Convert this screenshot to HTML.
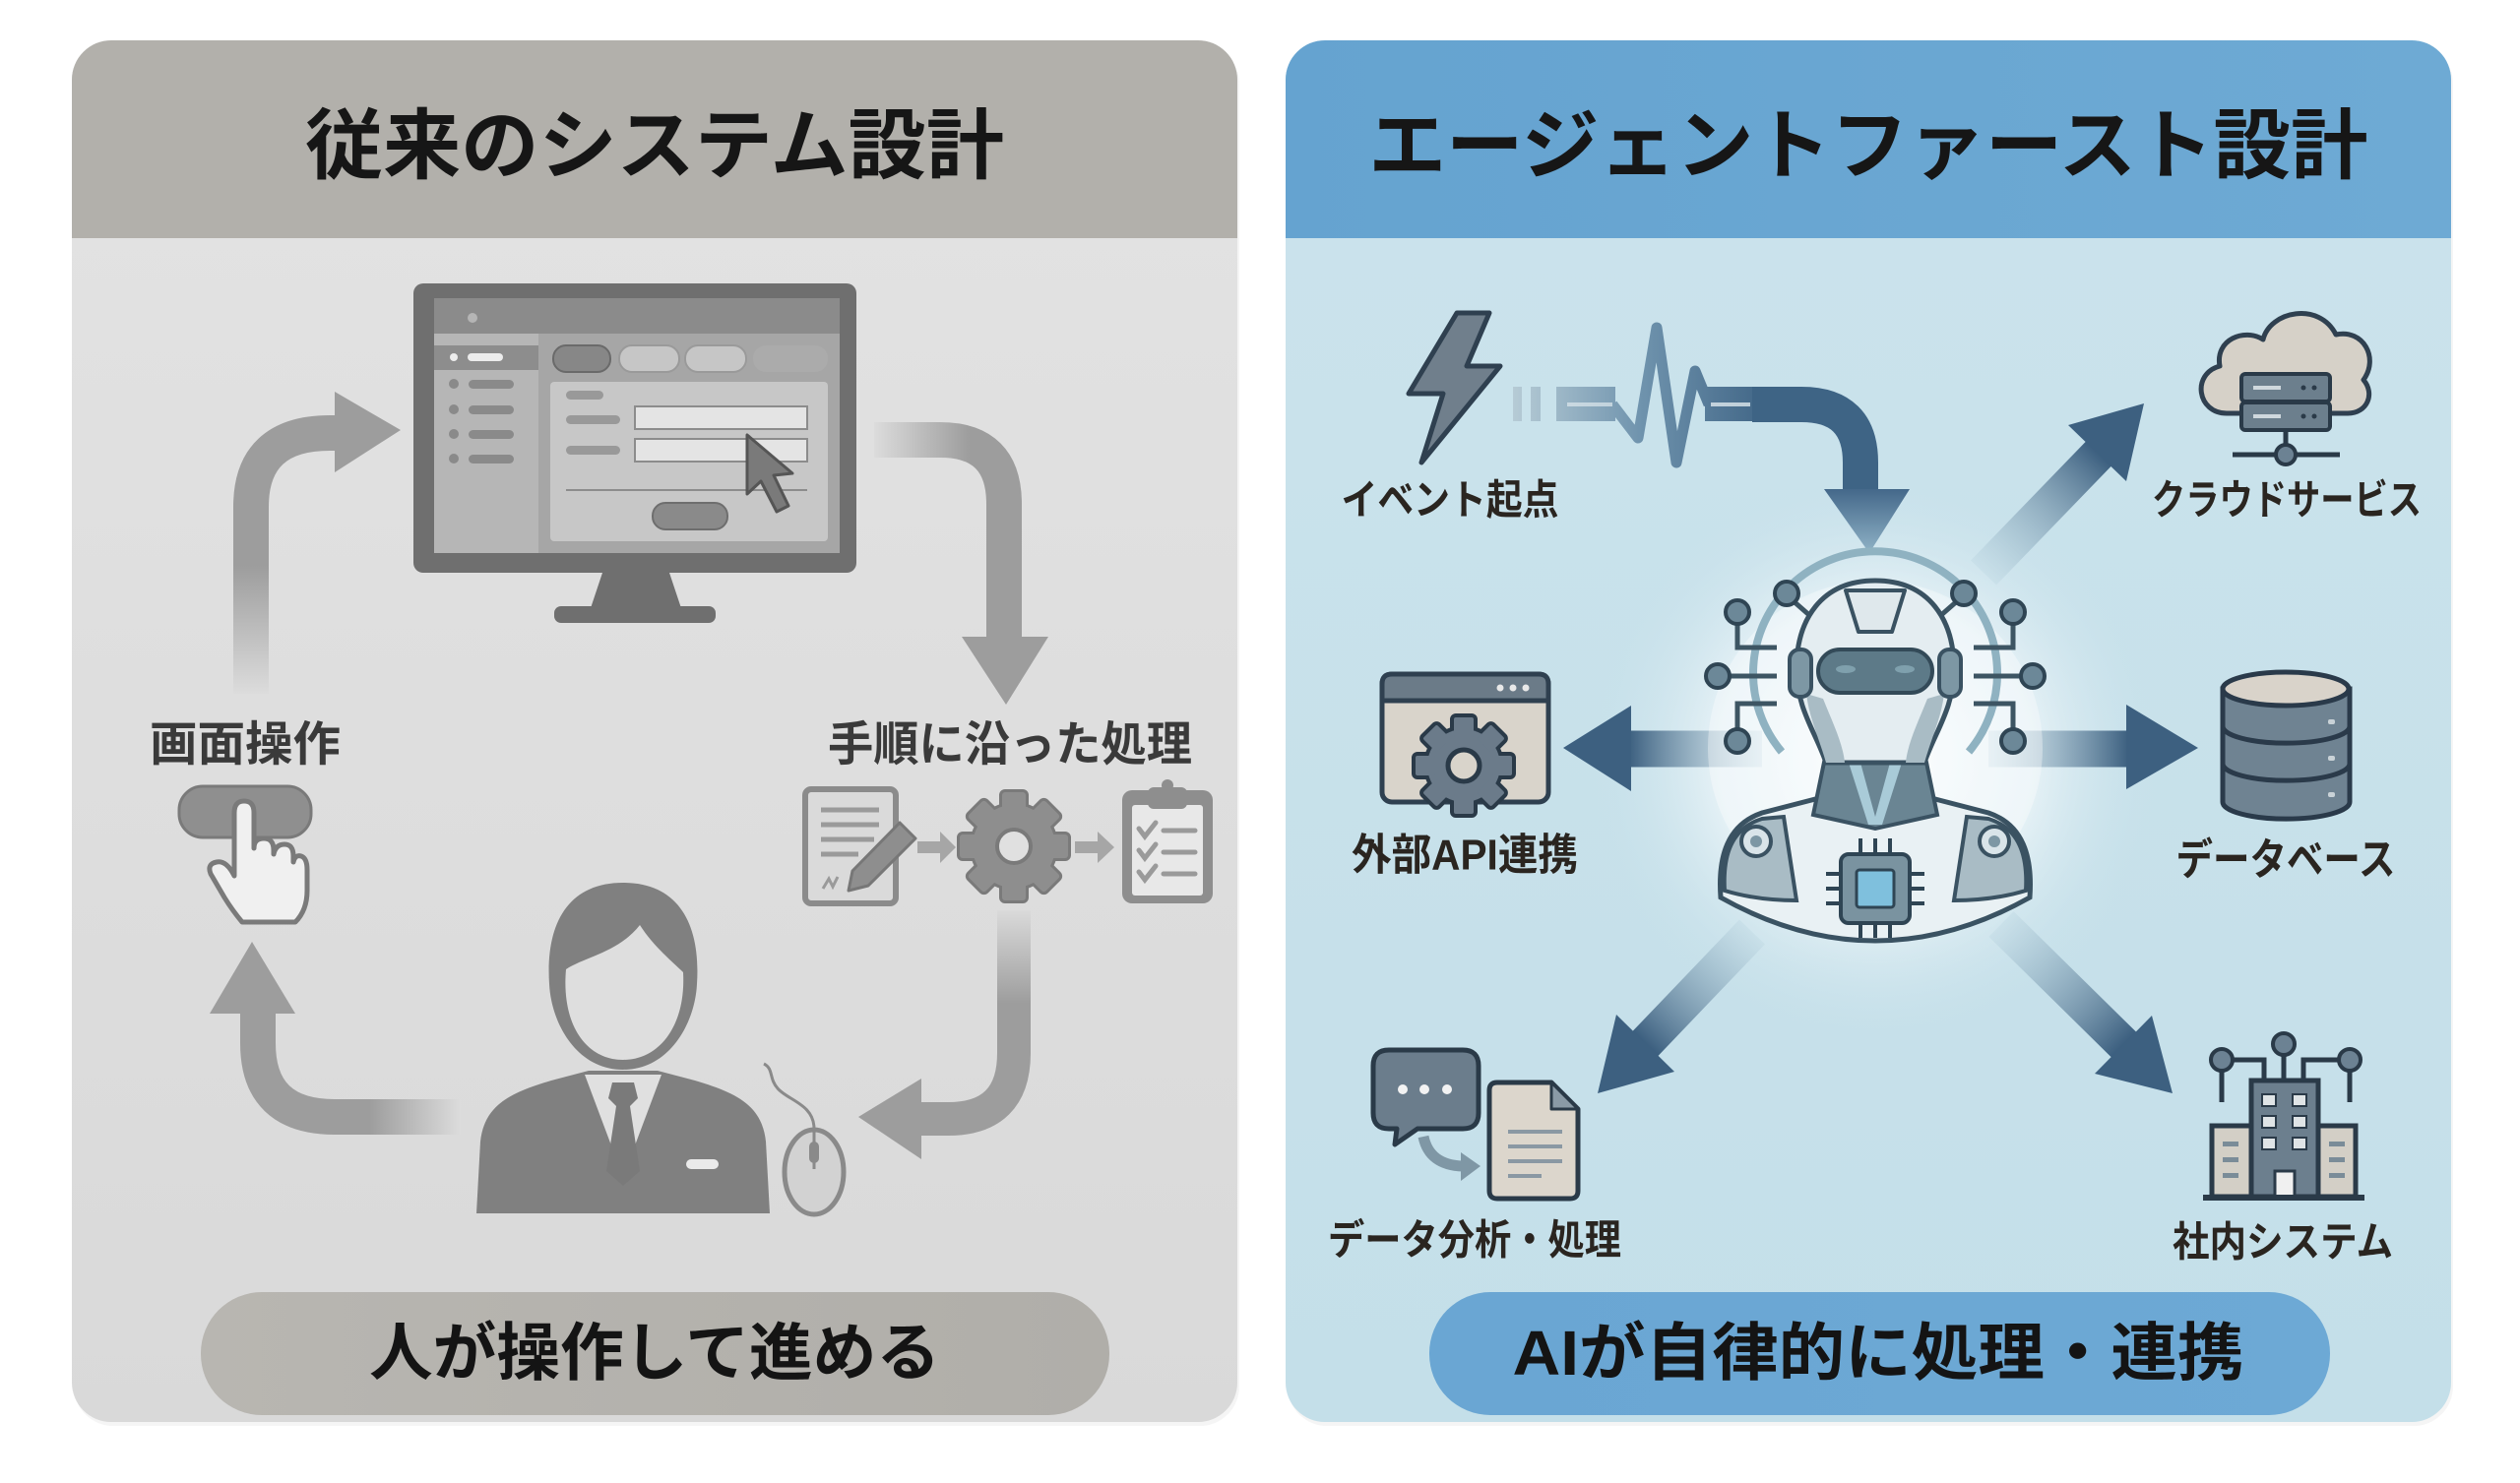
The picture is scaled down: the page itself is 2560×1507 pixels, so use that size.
<!DOCTYPE html>
<html><head><meta charset="utf-8"><style>
html,body{margin:0;padding:0;background:#ffffff;}
svg{display:block;}
text{font-family:"Liberation Sans","Noto Sans CJK JP",sans-serif;font-weight:bold;}
</style></head><body>
<svg width="2560" height="1507" viewBox="0 0 2560 1507" xmlns="http://www.w3.org/2000/svg">
<defs>
<clipPath id="cl"><rect x="73" y="41" width="1184" height="1404" rx="40"/></clipPath>
<clipPath id="cr"><rect x="1306" y="41" width="1184" height="1404" rx="40"/></clipPath>
<linearGradient id="lbody" x1="0" y1="0" x2="0" y2="1"><stop offset="0" stop-color="#e3e3e3"/><stop offset="1" stop-color="#d9d9d9"/></linearGradient>
<linearGradient id="rbody" x1="0" y1="0" x2="0" y2="1"><stop offset="0" stop-color="#cbe3ec"/><stop offset="1" stop-color="#c4dfe9"/></linearGradient>
<linearGradient id="rhead" x1="0" y1="0" x2="1" y2="0"><stop offset="0" stop-color="#65a3d0"/><stop offset="1" stop-color="#6eaad4"/></linearGradient>
<linearGradient id="lpill" x1="0" y1="0" x2="1" y2="0"><stop offset="0" stop-color="#b8b6b1"/><stop offset="1" stop-color="#b0aea9"/></linearGradient>
<linearGradient id="rpill" x1="0" y1="0" x2="1" y2="0"><stop offset="0" stop-color="#6aa6d3"/><stop offset="1" stop-color="#6da9d5"/></linearGradient>
<radialGradient id="glow" gradientUnits="userSpaceOnUse" cx="1905" cy="770" r="290">
<stop offset="0" stop-color="#ffffff" stop-opacity="0.95"/><stop offset="0.55" stop-color="#f0f7fa" stop-opacity="0.75"/><stop offset="1" stop-color="#c8e1ea" stop-opacity="0"/></radialGradient>
<linearGradient id="gA1" gradientUnits="userSpaceOnUse" x1="0" y1="705" x2="0" y2="575"><stop offset="0" stop-color="#dcdcdc"/><stop offset="1" stop-color="#9d9d9d"/></linearGradient>
<linearGradient id="gA2" gradientUnits="userSpaceOnUse" x1="888" y1="0" x2="985" y2="0"><stop offset="0" stop-color="#dcdcdc"/><stop offset="1" stop-color="#9d9d9d"/></linearGradient>
<linearGradient id="gA3" gradientUnits="userSpaceOnUse" x1="0" y1="925" x2="0" y2="1020"><stop offset="0" stop-color="#dadada"/><stop offset="1" stop-color="#9d9d9d"/></linearGradient>
<linearGradient id="gA4" gradientUnits="userSpaceOnUse" x1="468" y1="0" x2="375" y2="0"><stop offset="0" stop-color="#dcdcdc"/><stop offset="1" stop-color="#9d9d9d"/></linearGradient>
<linearGradient id="wave" gradientUnits="userSpaceOnUse" x1="1535" y1="0" x2="1800" y2="0"><stop offset="0" stop-color="#b7ccd6"/><stop offset="0.5" stop-color="#6f93ad"/><stop offset="1" stop-color="#3f6485"/></linearGradient>
<linearGradient id="ahead" gradientUnits="userSpaceOnUse" x1="0" y1="497" x2="0" y2="562"><stop offset="0" stop-color="#44688a"/><stop offset="1" stop-color="#8fb2c6"/></linearGradient>
<linearGradient id="sL" gradientUnits="userSpaceOnUse" x1="1790" y1="0" x2="1655" y2="0"><stop offset="0" stop-color="#b7d2de" stop-opacity="0.3"/><stop offset="1" stop-color="#3d6080"/></linearGradient>
<linearGradient id="sR" gradientUnits="userSpaceOnUse" x1="2020" y1="0" x2="2162" y2="0"><stop offset="0" stop-color="#b7d2de" stop-opacity="0.3"/><stop offset="1" stop-color="#3d6080"/></linearGradient>
<linearGradient id="sUR" gradientUnits="userSpaceOnUse" x1="2015" y1="582" x2="2132" y2="461"><stop offset="0" stop-color="#b7d2de" stop-opacity="0.3"/><stop offset="1" stop-color="#3d6080"/></linearGradient>
<linearGradient id="sDL" gradientUnits="userSpaceOnUse" x1="1780" y1="947" x2="1672" y2="1060"><stop offset="0" stop-color="#b7d2de" stop-opacity="0.3"/><stop offset="1" stop-color="#3d6080"/></linearGradient>
<linearGradient id="sDR" gradientUnits="userSpaceOnUse" x1="2033" y1="939" x2="2157" y2="1061"><stop offset="0" stop-color="#b7d2de" stop-opacity="0.3"/><stop offset="1" stop-color="#3d6080"/></linearGradient>
</defs>

<!-- ============ LEFT PANEL ============ -->
<rect x="75" y="45" width="1184" height="1404" rx="40" fill="#000" opacity="0.04"/>
<g clip-path="url(#cl)">
<rect x="73" y="41" width="1184" height="1404" fill="url(#lbody)"/>
<rect x="73" y="41" width="1184" height="201" fill="#b2b0ab"/>
</g>
<text x="665" y="148" font-size="78" text-anchor="middle" dominant-baseline="central" fill="#161616" textLength="710" lengthAdjust="spacingAndGlyphs">従来のシステム設計</text>

<!-- monitor -->
<rect x="420" y="288" width="450" height="294" rx="10" fill="#6f6f6f"/>
<rect x="441" y="303" width="412" height="259" fill="#a6a6a6"/>
<rect x="441" y="303" width="412" height="36" fill="#8b8b8b"/>
<circle cx="480" cy="323" r="5" fill="#b5b5b5"/>
<rect x="441" y="339" width="106" height="223" fill="#b6b6b6"/>
<rect x="441" y="351" width="106" height="25" fill="#8d8d8d"/>
<circle cx="461" cy="363" r="4" fill="#ececec"/>
<rect x="475" y="359" width="36" height="8" rx="4" fill="#ececec"/>
<g fill="#8a8a8a">
<circle cx="461" cy="390" r="5"/><rect x="476" y="386" width="46" height="9" rx="4.5"/>
<circle cx="461" cy="416" r="5"/><rect x="476" y="412" width="46" height="9" rx="4.5"/>
<circle cx="461" cy="441" r="5"/><rect x="476" y="437" width="46" height="9" rx="4.5"/>
<circle cx="461" cy="466" r="5"/><rect x="476" y="462" width="46" height="9" rx="4.5"/>
</g>
<rect x="562" y="351" width="58" height="27" rx="13" fill="#878787" stroke="#6a6a6a" stroke-width="2"/>
<rect x="629" y="351" width="61" height="27" rx="13" fill="#c6c6c6" stroke="#9a9a9a" stroke-width="2"/>
<rect x="696" y="351" width="62" height="27" rx="13" fill="#c6c6c6" stroke="#9a9a9a" stroke-width="2"/>
<rect x="765" y="351" width="76" height="27" rx="13" fill="#ababab"/>
<rect x="559" y="388" width="282" height="162" rx="4" fill="#c7c7c7"/>
<g fill="#999">
<rect x="575" y="397" width="38" height="9" rx="4.5"/>
<rect x="575" y="422" width="55" height="9" rx="4.5"/>
<rect x="575" y="453" width="55" height="9" rx="4.5"/>
</g>
<rect x="645" y="413" width="175" height="23" fill="#e4e4e4" stroke="#8c8c8c" stroke-width="2"/>
<rect x="645" y="446" width="175" height="23" fill="#e4e4e4" stroke="#8c8c8c" stroke-width="2"/>
<line x1="575" y1="498" x2="820" y2="498" stroke="#8c8c8c" stroke-width="2"/>
<rect x="663" y="511" width="76" height="27" rx="13" fill="#8a8a8a" stroke="#6e6e6e" stroke-width="2"/>
<polygon points="759,442 759,502 773,489 789,520 801,514 786,483 805,481" fill="#7a7a7a" stroke="#555" stroke-width="3" stroke-linejoin="round"/>
<polygon points="612,582 680,582 692,618 600,618" fill="#6f6f6f"/>
<rect x="563" y="616" width="164" height="17" rx="7" fill="#6f6f6f"/>

<!-- left arrows -->
<path d="M255,705 L255,515 Q255,440 335,440 L345,440" fill="none" stroke="url(#gA1)" stroke-width="36"/>
<polygon points="340,398 407,437 340,480" fill="#9d9d9d"/>
<path d="M888,447 L955,447 Q1020,447 1020,512 L1020,650" fill="none" stroke="url(#gA2)" stroke-width="36"/>
<polygon points="977,647 1065,647 1022,716" fill="#9d9d9d"/>
<path d="M1030,925 L1030,1070 Q1030,1137 963,1137 L935,1137" fill="none" stroke="url(#gA3)" stroke-width="34"/>
<polygon points="936,1096 936,1178 872,1135" fill="#9d9d9d"/>
<path d="M468,1135 L340,1135 Q262,1135 262,1060 L262,1025" fill="none" stroke="url(#gA4)" stroke-width="36"/>
<polygon points="213,1030 300,1030 256,957" fill="#9d9d9d"/>

<!-- labels left -->
<text x="249" y="757" font-size="48" text-anchor="middle" dominant-baseline="central" fill="#3a3a3a" textLength="194" lengthAdjust="spacingAndGlyphs">画面操作</text>
<text x="1026" y="757" font-size="48" text-anchor="middle" dominant-baseline="central" fill="#3a3a3a" textLength="370" lengthAdjust="spacingAndGlyphs">手順に沿った処理</text>

<!-- button + hand -->
<rect x="182" y="799" width="134" height="52" rx="24" fill="#8f8f8f" stroke="#7a7a7a" stroke-width="3"/>
<path d="M238,880 L238,826 Q238,814 248,814 Q258,814 258,826 L258,862 Q258,852 268,852 Q278,852 278,864 L278,868 Q280,858 289,858 Q298,858 298,870 L298,876 Q300,868 306,870 Q312,872 312,884 L312,905 Q312,925 300,937 L246,937 Q236,925 228,912 L214,888 Q210,878 220,876 Q230,874 238,890 Z" fill="#f0f0f0" stroke="#7a7a7a" stroke-width="5" stroke-linejoin="round"/>

<!-- document w/ pencil -->
<rect x="818" y="802" width="92" height="116" rx="6" fill="#dadada" stroke="#8b8b8b" stroke-width="6"/>
<g stroke="#9a9a9a" stroke-width="5"><line x1="834" y1="823" x2="893" y2="823"/><line x1="834" y1="838" x2="893" y2="838"/><line x1="834" y1="853" x2="888" y2="853"/><line x1="834" y1="868" x2="872" y2="868"/></g>
<path d="M836,903 l6,-10 l4,8 l5,-10" fill="none" stroke="#9a9a9a" stroke-width="3"/>
<polygon points="862,905 866,885 914,836 930,852 882,900" fill="#8e8e8e" stroke="#777" stroke-width="3" stroke-linejoin="round"/>
<!-- small arrows -->
<polygon points="932,855 955,855 955,845 971,861 955,877 955,867 932,867" fill="#a6a6a6"/>
<polygon points="1092,855 1115,855 1115,845 1132,861 1115,877 1115,867 1092,867" fill="#a6a6a6"/>
<!-- gear -->
<g transform="translate(1030,860)" fill="#8e8e8e" stroke="#7a7a7a" stroke-width="6">
<circle r="42"/>
<rect x="-12" y="-55" width="24" height="22" rx="3"/>
<rect x="-12" y="-55" width="24" height="22" rx="3" transform="rotate(45)"/>
<rect x="-12" y="-55" width="24" height="22" rx="3" transform="rotate(90)"/>
<rect x="-12" y="-55" width="24" height="22" rx="3" transform="rotate(135)"/>
<rect x="-12" y="-55" width="24" height="22" rx="3" transform="rotate(180)"/>
<rect x="-12" y="-55" width="24" height="22" rx="3" transform="rotate(225)"/>
<rect x="-12" y="-55" width="24" height="22" rx="3" transform="rotate(270)"/>
<rect x="-12" y="-55" width="24" height="22" rx="3" transform="rotate(315)"/>
</g>
<g transform="translate(1030,860)" fill="#8e8e8e">
<circle r="42"/>
<rect x="-12" y="-55" width="24" height="22" rx="3"/>
<rect x="-12" y="-55" width="24" height="22" rx="3" transform="rotate(45)"/>
<rect x="-12" y="-55" width="24" height="22" rx="3" transform="rotate(90)"/>
<rect x="-12" y="-55" width="24" height="22" rx="3" transform="rotate(135)"/>
<rect x="-12" y="-55" width="24" height="22" rx="3" transform="rotate(180)"/>
<rect x="-12" y="-55" width="24" height="22" rx="3" transform="rotate(225)"/>
<rect x="-12" y="-55" width="24" height="22" rx="3" transform="rotate(270)"/>
<rect x="-12" y="-55" width="24" height="22" rx="3" transform="rotate(315)"/>
<circle r="17" fill="#e0e0e0" stroke="#7a7a7a" stroke-width="4"/>
</g>
<!-- clipboard -->
<rect x="1140" y="803" width="92" height="115" rx="10" fill="#8e8e8e"/>
<rect x="1150" y="818" width="72" height="92" rx="3" fill="#e8e8e8"/>
<rect x="1166" y="800" width="40" height="22" rx="6" fill="#8e8e8e"/>
<circle cx="1186" cy="798" r="6" fill="#8e8e8e"/>
<g fill="none" stroke="#9a9a9a" stroke-width="5" stroke-linecap="round">
<polyline points="1157,842 1163,850 1174,836"/><line x1="1182" y1="844" x2="1214" y2="844"/>
<polyline points="1157,864 1163,872 1174,858"/><line x1="1182" y1="866" x2="1214" y2="866"/>
<polyline points="1157,886 1163,894 1174,880"/><line x1="1182" y1="888" x2="1214" y2="888"/>
</g>

<!-- person -->
<path d="M633,897 C690,897 712,940 708,1000 C706,1040 680,1087 633,1087 C586,1087 560,1040 558,1000 C554,940 576,897 633,897 Z" fill="#808080"/>
<path d="M575,985 C595,972 628,968 650,940 C664,962 684,978 694,988 C697,1042 670,1077 633,1077 C596,1077 570,1042 575,985 Z" fill="#dedede"/>
<path d="M484,1233 L488,1160 C492,1122 520,1110 560,1098 L598,1088 L668,1088 L706,1098 C746,1110 774,1122 778,1160 L782,1233 Z" fill="#808080"/>
<polygon points="594,1092 672,1092 633,1196" fill="#e0e0e0"/>
<polygon points="622,1100 644,1100 648,1116 640,1124 650,1190 633,1205 616,1190 626,1124 618,1116" fill="#7a7a7a"/>
<rect x="697" y="1178" width="33" height="10" rx="5" fill="#eaeaea"/>
<!-- mouse -->
<path d="M827,1147 C827,1122 800,1118 790,1106 C781,1096 786,1086 776,1081" fill="none" stroke="#8a8a8a" stroke-width="3"/>
<ellipse cx="827" cy="1191" rx="30" ry="43" fill="#d2d2d2" stroke="#8a8a8a" stroke-width="5"/>
<line x1="827" y1="1150" x2="827" y2="1188" stroke="#8a8a8a" stroke-width="3"/>
<rect x="822" y="1160" width="10" height="22" rx="5" fill="#8a8a8a"/>

<!-- bottom pill left -->
<rect x="204" y="1313" width="923" height="125" rx="62" fill="url(#lpill)"/>
<text x="665" y="1375" font-size="64" text-anchor="middle" dominant-baseline="central" fill="#141414" textLength="580" lengthAdjust="spacingAndGlyphs">人が操作して進める</text>

<!-- ============ RIGHT PANEL ============ -->
<rect x="1308" y="45" width="1184" height="1404" rx="40" fill="#000" opacity="0.04"/>
<g clip-path="url(#cr)">
<rect x="1306" y="41" width="1184" height="1404" fill="url(#rbody)"/>
<rect x="1306" y="41" width="1184" height="201" fill="url(#rhead)"/>
<circle cx="1905" cy="770" r="290" fill="url(#glow)"/>
</g>
<text x="1898" y="148" font-size="78" text-anchor="middle" dominant-baseline="central" fill="#161616" textLength="1015" lengthAdjust="spacingAndGlyphs">エージェントファースト設計</text>

<!-- lightning -->
<polygon points="1480,318 1513,318 1490,372 1524,372 1444,470 1466,400 1431,400" fill="#707f8c" stroke="#2f4050" stroke-width="5" stroke-linejoin="round"/>
<!-- wave -->
<g fill="url(#wave)">
<rect x="1537" y="393" width="9" height="35"/>
<rect x="1555" y="393" width="10" height="35"/>
<rect x="1581" y="393" width="60" height="35"/>
<rect x="1732" y="393" width="50" height="35"/>
</g>
<polyline points="1638,411 1664,445 1683,333 1703,470 1722,377 1736,411" fill="none" stroke="url(#wave)" stroke-width="11" stroke-linejoin="round"/>
<line x1="1592" y1="411" x2="1638" y2="411" stroke="#dfe9ee" stroke-width="4" opacity="0.7"/>
<line x1="1738" y1="411" x2="1778" y2="411" stroke="#dfe9ee" stroke-width="4" opacity="0.8"/>
<path d="M1780,411 L1830,411 Q1890,411 1890,470 L1890,500" fill="none" stroke="#3e6485" stroke-width="36"/>
<polygon points="1853,497 1940,497 1899,562" fill="url(#ahead)"/>
<text x="1473" y="508" font-size="42" text-anchor="middle" dominant-baseline="central" fill="#2a2520" textLength="221" lengthAdjust="spacingAndGlyphs">イベント起点</text>

<!-- cloud -->
<path d="M2262,420 C2232,420 2226,380 2255,372 C2250,345 2280,333 2299,345 C2306,316 2356,306 2373,340 C2401,334 2417,364 2401,386 C2413,400 2405,420 2385,420 Z" fill="#d6d1c8" stroke="#2f4050" stroke-width="5" stroke-linejoin="round"/>
<rect x="2277" y="380" width="90" height="28" rx="4" fill="#6c7f8d" stroke="#2a3a48" stroke-width="4"/>
<rect x="2277" y="409" width="90" height="28" rx="4" fill="#6c7f8d" stroke="#2a3a48" stroke-width="4"/>
<g stroke="#cfd8dd" stroke-width="4"><line x1="2289" y1="394" x2="2317" y2="394"/><line x1="2289" y1="423" x2="2317" y2="423"/></g>
<g fill="#2a3a48"><circle cx="2340" cy="394" r="2.5"/><circle cx="2351" cy="394" r="2.5"/><circle cx="2340" cy="423" r="2.5"/><circle cx="2351" cy="423" r="2.5"/></g>
<line x1="2322" y1="437" x2="2322" y2="455" stroke="#2a3a48" stroke-width="5"/>
<line x1="2268" y1="462" x2="2377" y2="462" stroke="#2a3a48" stroke-width="5"/>
<circle cx="2322" cy="462" r="10" fill="#6c8293" stroke="#2a3a48" stroke-width="4"/>
<text x="2323" y="508" font-size="42" text-anchor="middle" dominant-baseline="central" fill="#2a2520" textLength="274" lengthAdjust="spacingAndGlyphs">クラウドサービス</text>

<!-- robot arrows -->
<line x1="1790" y1="761" x2="1655" y2="761" stroke="url(#sL)" stroke-width="37"/>
<polygon points="1657,717 1657,804 1588,760" fill="#3d6080"/>
<line x1="2020" y1="761" x2="2162" y2="761" stroke="url(#sR)" stroke-width="37"/>
<polygon points="2160,716 2160,802 2233,760" fill="#3d6080"/>
<line x1="2015" y1="582" x2="2132" y2="461" stroke="url(#sUR)" stroke-width="36"/>
<polygon points="2160,489 2101,432 2178,410" fill="#3d6080"/>
<line x1="1780" y1="947" x2="1670" y2="1062" stroke="url(#sDL)" stroke-width="36"/>
<polygon points="1701,1089 1642,1031 1623,1111" fill="#3d6080"/>
<line x1="2033" y1="939" x2="2159" y2="1063" stroke="url(#sDR)" stroke-width="36"/>
<polygon points="2128,1091 2186,1032 2207,1111" fill="#3d6080"/>

<!-- robot -->
<circle cx="1905" cy="760" r="170" fill="#ffffff" opacity="0.35"/>
<path d="M1810,764 A124,124 0 1 1 2000,764" fill="none" stroke="#8fb2c1" stroke-width="8"/>
<g fill="none" stroke="#3d5563" stroke-width="5">
<polyline points="1765,634 1765,658 1805,658"/>
<line x1="1757" y1="687" x2="1805" y2="687"/>
<polyline points="1765,741 1765,715 1805,715"/>
<line x1="1822" y1="611" x2="1838" y2="625"/>
<polyline points="2045,634 2045,658 2005,658"/>
<line x1="2053" y1="687" x2="2005" y2="687"/>
<polyline points="2045,741 2045,715 2005,715"/>
<line x1="1988" y1="611" x2="1972" y2="625"/>
</g>
<g fill="#6c8898" stroke="#2f4554" stroke-width="4">
<circle cx="1815" cy="603" r="12"/><circle cx="1765" cy="622" r="12"/><circle cx="1745" cy="687" r="12"/><circle cx="1765" cy="753" r="12"/>
<circle cx="1995" cy="603" r="12"/><circle cx="2045" cy="622" r="12"/><circle cx="2065" cy="687" r="12"/><circle cx="2045" cy="753" r="12"/>
</g>
<!-- body -->
<path d="M1748,912 C1745,870 1755,838 1790,826 L1852,810 L1958,810 L2020,826 C2055,838 2065,870 2062,912 Q1905,1000 1748,912 Z" fill="#e9f1f4" stroke="#3a5262" stroke-width="5"/>
<path d="M1752,905 C1750,870 1758,842 1790,832 L1812,830 L1825,915 Q1785,915 1752,905 Z" fill="#a9bcc5" stroke="#3a5262" stroke-width="4"/>
<path d="M2058,905 C2060,870 2052,842 2020,832 L1998,830 L1985,915 Q2025,915 2058,905 Z" fill="#a9bcc5" stroke="#3a5262" stroke-width="4"/>
<circle cx="1784" cy="855" r="15" fill="#d9e4e9" stroke="#3a5262" stroke-width="4"/>
<circle cx="1784" cy="855" r="6" fill="#7d97a4"/>
<circle cx="2026" cy="855" r="15" fill="#d9e4e9" stroke="#3a5262" stroke-width="4"/>
<circle cx="2026" cy="855" r="6" fill="#7d97a4"/>
<!-- neck -->
<polygon points="1855,765 1955,765 1968,828 1905,842 1842,828" fill="#6a8593" stroke="#3a5262" stroke-width="4"/>
<polygon points="1878,775 1890,775 1905,830 1920,775 1932,775 1912,838 1898,838" fill="#a9cbd8"/>
<!-- head -->
<path d="M1905,590 C1960,590 1985,630 1985,680 C1985,720 1965,745 1955,775 L1855,775 C1845,745 1825,720 1825,680 C1825,630 1850,590 1905,590 Z" fill="#e4edf1" stroke="#3a5262" stroke-width="5"/>
<path d="M1852,710 C1862,735 1872,755 1874,775 L1855,775 C1848,750 1838,730 1835,705 Z" fill="#a9bcc5"/>
<path d="M1958,710 C1948,735 1938,755 1936,775 L1955,775 C1962,750 1972,730 1975,705 Z" fill="#a9bcc5"/>
<rect x="1818" y="660" width="22" height="48" rx="10" fill="#7d97a4" stroke="#3a5262" stroke-width="4"/>
<rect x="1970" y="660" width="22" height="48" rx="10" fill="#7d97a4" stroke="#3a5262" stroke-width="4"/>
<polygon points="1875,600 1935,600 1922,642 1888,642" fill="#dfe8ec" stroke="#3a5262" stroke-width="4" stroke-linejoin="round"/>
<rect x="1847" y="660" width="116" height="44" rx="22" fill="#5d7a88" stroke="#334a58" stroke-width="4"/>
<ellipse cx="1875" cy="680" rx="10" ry="4" fill="#8fb0bd" opacity="0.7"/>
<ellipse cx="1935" cy="680" rx="10" ry="4" fill="#8fb0bd" opacity="0.7"/>
<!-- chip -->
<g stroke="#2f4554" stroke-width="4">
<line x1="1890" y1="852" x2="1890" y2="868"/><line x1="1905" y1="852" x2="1905" y2="868"/><line x1="1920" y1="852" x2="1920" y2="868"/>
<line x1="1890" y1="938" x2="1890" y2="953"/><line x1="1905" y1="938" x2="1905" y2="953"/><line x1="1920" y1="938" x2="1920" y2="953"/>
<line x1="1855" y1="888" x2="1870" y2="888"/><line x1="1855" y1="903" x2="1870" y2="903"/><line x1="1855" y1="918" x2="1870" y2="918"/>
<line x1="1940" y1="888" x2="1955" y2="888"/><line x1="1940" y1="903" x2="1940" y2="903"/><line x1="1940" y1="903" x2="1955" y2="903"/><line x1="1940" y1="918" x2="1955" y2="918"/>
</g>
<rect x="1870" y="868" width="70" height="70" rx="8" fill="#7a93a0" stroke="#2f4554" stroke-width="4"/>
<rect x="1886" y="884" width="38" height="38" rx="3" fill="#7fc0dd" stroke="#2f4554" stroke-width="3"/>

<!-- API icon -->
<rect x="1404" y="685" width="169" height="130" rx="10" fill="#d9d4cb" stroke="#2f4050" stroke-width="5"/>
<path d="M1404,712 L1404,695 Q1404,685 1414,685 L1563,685 Q1573,685 1573,695 L1573,712 Z" fill="#6b7b88" stroke="#2f4050" stroke-width="5"/>
<g fill="#e8e8e8"><circle cx="1524" cy="699" r="3.5"/><circle cx="1537" cy="699" r="3.5"/><circle cx="1550" cy="699" r="3.5"/></g>
<g transform="translate(1487,778)" fill="#2a3a48" stroke="#2a3a48" stroke-width="8">
<circle r="37"/>
<rect x="-10" y="-49" width="20" height="20" rx="2"/>
<rect x="-10" y="-49" width="20" height="20" rx="2" transform="rotate(45)"/>
<rect x="-10" y="-49" width="20" height="20" rx="2" transform="rotate(90)"/>
<rect x="-10" y="-49" width="20" height="20" rx="2" transform="rotate(135)"/>
<rect x="-10" y="-49" width="20" height="20" rx="2" transform="rotate(180)"/>
<rect x="-10" y="-49" width="20" height="20" rx="2" transform="rotate(225)"/>
<rect x="-10" y="-49" width="20" height="20" rx="2" transform="rotate(270)"/>
<rect x="-10" y="-49" width="20" height="20" rx="2" transform="rotate(315)"/>
</g>
<g transform="translate(1487,778)" fill="#6b7b8a">
<circle r="37"/>
<rect x="-10" y="-49" width="20" height="20" rx="2"/>
<rect x="-10" y="-49" width="20" height="20" rx="2" transform="rotate(45)"/>
<rect x="-10" y="-49" width="20" height="20" rx="2" transform="rotate(90)"/>
<rect x="-10" y="-49" width="20" height="20" rx="2" transform="rotate(135)"/>
<rect x="-10" y="-49" width="20" height="20" rx="2" transform="rotate(180)"/>
<rect x="-10" y="-49" width="20" height="20" rx="2" transform="rotate(225)"/>
<rect x="-10" y="-49" width="20" height="20" rx="2" transform="rotate(270)"/>
<rect x="-10" y="-49" width="20" height="20" rx="2" transform="rotate(315)"/>
<circle r="16" fill="#d9d4cb" stroke="#2a3a48" stroke-width="5"/>
</g>
<text x="1488" y="869" font-size="44" text-anchor="middle" dominant-baseline="central" fill="#2a2520" textLength="230" lengthAdjust="spacingAndGlyphs">外部API連携</text>

<!-- database -->
<path d="M2258,700 L2258,815 A64,17 0 0 0 2387,815 L2387,700 Z" fill="#6f8392" stroke="#2a3a4a" stroke-width="5"/>
<path d="M2258,738 A64,17 0 0 0 2387,738" fill="none" stroke="#2a3a4a" stroke-width="5"/>
<path d="M2258,776 A64,17 0 0 0 2387,776" fill="none" stroke="#2a3a4a" stroke-width="5"/>
<ellipse cx="2322" cy="700" rx="64" ry="17" fill="#d9d3ca" stroke="#2a3a4a" stroke-width="5"/>
<g fill="#c9d2d7"><rect x="2365" y="731" width="7" height="5" rx="2"/><rect x="2365" y="768" width="7" height="5" rx="2"/><rect x="2365" y="805" width="7" height="5" rx="2"/></g>
<text x="2322" y="874" font-size="44" text-anchor="middle" dominant-baseline="central" fill="#2a2520" textLength="223" lengthAdjust="spacingAndGlyphs">データベース</text>

<!-- data analysis -->
<path d="M1411,1067 L1486,1067 Q1502,1067 1502,1083 L1502,1131 Q1502,1147 1486,1147 L1440,1147 L1417,1163 L1419,1147 L1411,1147 Q1395,1147 1395,1131 L1395,1083 Q1395,1067 1411,1067 Z" fill="#6b7d8c" stroke="#2a3a48" stroke-width="5" stroke-linejoin="round"/>
<g fill="#f2f2f2"><circle cx="1425" cy="1107" r="5"/><circle cx="1447" cy="1107" r="5"/><circle cx="1470" cy="1107" r="5"/></g>
<path d="M1446,1155 Q1452,1184 1486,1185" fill="none" stroke="#7f97a5" stroke-width="11"/>
<polygon points="1484,1171 1504,1185 1484,1200" fill="#7f97a5"/>
<path d="M1521,1100 L1576,1100 L1603,1127 L1603,1210 Q1603,1218 1595,1218 L1521,1218 Q1513,1218 1513,1210 L1513,1108 Q1513,1100 1521,1100 Z" fill="#dcd6cc" stroke="#2a3a48" stroke-width="5" stroke-linejoin="round"/>
<polygon points="1576,1100 1576,1127 1603,1127" fill="#8a9aa6" stroke="#2a3a48" stroke-width="3" stroke-linejoin="round"/>
<g stroke="#8a98a3" stroke-width="4"><line x1="1532" y1="1150" x2="1587" y2="1150"/><line x1="1532" y1="1165" x2="1587" y2="1165"/><line x1="1532" y1="1180" x2="1587" y2="1180"/><line x1="1532" y1="1195" x2="1566" y2="1195"/></g>
<text x="1498" y="1260" font-size="42" text-anchor="middle" dominant-baseline="central" fill="#2a2520" textLength="298" lengthAdjust="spacingAndGlyphs">データ分析・処理</text>

<!-- building -->
<g fill="none" stroke="#2a3a48" stroke-width="5">
<line x1="2320" y1="1072" x2="2320" y2="1098"/>
<polyline points="2268,1077 2300,1077 2300,1098"/>
<polyline points="2257,1089 2257,1120"/>
<polyline points="2376,1077 2340,1077 2340,1098"/>
<polyline points="2387,1089 2387,1120"/>
</g>
<g fill="#6c8293" stroke="#2a3a48" stroke-width="4">
<circle cx="2320" cy="1061" r="11"/><circle cx="2257" cy="1077" r="11"/><circle cx="2387" cy="1077" r="11"/>
</g>
<rect x="2247" y="1144" width="40" height="72" fill="#d3cfc6" stroke="#2a3a48" stroke-width="5"/>
<rect x="2355" y="1144" width="38" height="72" fill="#d3cfc6" stroke="#2a3a48" stroke-width="5"/>
<g fill="#7a8c98"><rect x="2258" y="1160" width="16" height="5"/><rect x="2258" y="1176" width="16" height="5"/><rect x="2258" y="1192" width="16" height="5"/><rect x="2366" y="1160" width="16" height="5"/><rect x="2366" y="1176" width="16" height="5"/><rect x="2366" y="1192" width="16" height="5"/></g>
<rect x="2287" y="1098" width="68" height="118" fill="#6c7f8e" stroke="#2a3a48" stroke-width="5"/>
<g fill="#dfe4e6" stroke="#2a3a48" stroke-width="2">
<rect x="2298" y="1112" width="14" height="12"/><rect x="2329" y="1112" width="14" height="12"/>
<rect x="2298" y="1134" width="14" height="12"/><rect x="2329" y="1134" width="14" height="12"/>
<rect x="2298" y="1156" width="14" height="12"/><rect x="2329" y="1156" width="14" height="12"/>
</g>
<rect x="2311" y="1190" width="20" height="26" fill="#f0f0f0" stroke="#2a3a48" stroke-width="3"/>
<line x1="2238" y1="1217" x2="2402" y2="1217" stroke="#2a3a48" stroke-width="6"/>
<text x="2319" y="1262" font-size="42" text-anchor="middle" dominant-baseline="central" fill="#2a2520" textLength="224" lengthAdjust="spacingAndGlyphs">社内システム</text>

<!-- bottom pill right -->
<rect x="1452" y="1313" width="915" height="125" rx="62" fill="url(#rpill)"/>
<text x="1908" y="1375" font-size="64" text-anchor="middle" dominant-baseline="central" fill="#141414" textLength="743" lengthAdjust="spacingAndGlyphs">AIが自律的に処理・連携</text>
</svg>
</body></html>
